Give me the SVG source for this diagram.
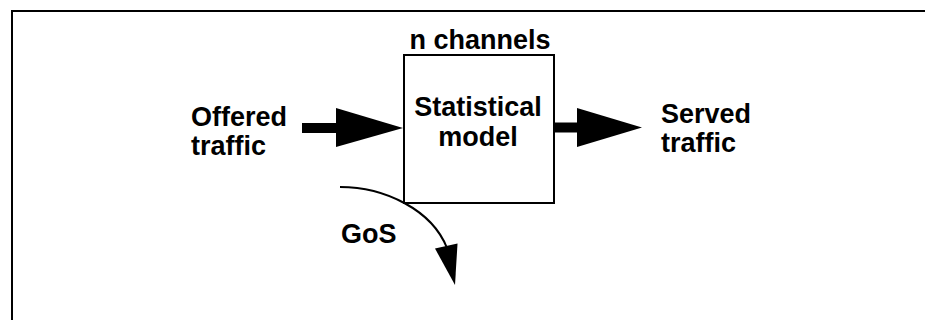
<svg xmlns="http://www.w3.org/2000/svg" width="925" height="320" viewBox="0 0 925 320">
  <style>
    .lbl { font-family: "Liberation Sans", Arial, Helvetica, sans-serif; font-weight: bold; font-size: 27px; fill: #000; }
    .mid { text-anchor: middle; }
    .frame { fill: none; stroke: #000; stroke-width: 2; }
    .box { fill: #fff; stroke: #000; stroke-width: 2; }
    .shaft { fill: none; stroke: #000; stroke-width: 10; }
    .curve { fill: none; stroke: #000; stroke-width: 2; }
    .head { fill: #000; stroke: none; }
  </style>

  <rect width="925" height="320" fill="#fff"/>
  <!-- outer frame, running off the right and bottom edges -->
  <rect class="frame" x="12" y="11" width="960" height="360"/>

  <!-- labels are slightly stretched vertically -->
  <g id="offered">
    <text class="lbl" transform="translate(191,126) scale(1,1.04)">Offered</text>
    <text class="lbl" transform="translate(191,155) scale(1,1.04)">traffic</text>
  </g>

  <g id="model">
    <text class="lbl mid" transform="translate(480,49) scale(1,1.04)">n channels</text>
    <rect class="box" x="404" y="55" width="150" height="148"/>
    <text class="lbl mid" transform="translate(478,116) scale(1,1.04)">Statistical</text>
    <text class="lbl mid" transform="translate(478,146) scale(1,1.04)">model</text>
  </g>

  <g id="served">
    <text class="lbl" transform="translate(661,123) scale(1,1.04)">Served</text>
    <text class="lbl" transform="translate(661,152) scale(1,1.04)">traffic</text>
  </g>

  <g id="gos">
    <text class="lbl" transform="translate(341,243) scale(1,1.04)">GoS</text>
  </g>

  <g id="connectors">
    <!-- offered traffic into the model -->
    <line class="shaft" x1="302" y1="128" x2="338" y2="128"/>
    <polygon class="head" points="336,108 403,128 336,147"/>
    <!-- served traffic out of the model -->
    <line class="shaft" x1="555" y1="127.5" x2="579" y2="127.5"/>
    <polygon class="head" points="577,108 642,127.5 577,147"/>
    <!-- grade of service (blocked traffic) -->
    <path class="curve" d="M340,187 C385,187 432,210 447,248"/>
    <polygon class="head" points="435,248.5 457.5,243.5 455,285"/>
  </g>
</svg>
